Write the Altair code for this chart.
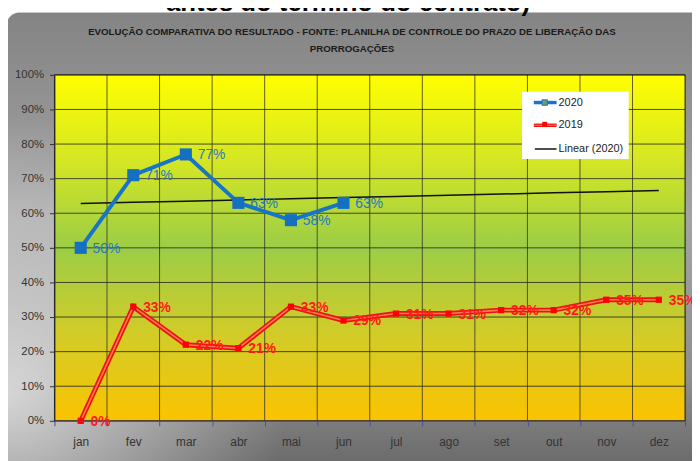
import altair as alt
import pandas as pd
import numpy as np

months = ["jan", "fev", "mar", "abr", "mai", "jun", "jul", "ago", "set", "out", "nov", "dez"]
v2020 = [0.50, 0.71, 0.77, 0.63, 0.58, 0.63]
v2019 = [0.00, 0.33, 0.22, 0.21, 0.33, 0.29, 0.31, 0.31, 0.32, 0.32, 0.35, 0.35]
yticks = [0.0, 0.1, 0.2, 0.3, 0.4, 0.5, 0.6, 0.7, 0.8, 0.9, 1.0]

title1 = "EVOLUÇÃO COMPARATIVA DO RESULTADO - FONTE: PLANILHA DE CONTROLE DO PRAZO DE LIBERAÇÃO DAS"
title2 = "PRORROGAÇÕES"
top_text = "antes do término do contrato)"

W, H = 638, 350
SANS = "Liberation Sans, Arial"

# linear trend of 2020 (least squares, like Excel's "Linear (2020)")
coef = np.polyfit(np.arange(len(v2020)), v2020, 1)
trend = [float(coef[0] * i + coef[1]) for i in range(len(months))]

df2020 = pd.DataFrame({"mes": months[:len(v2020)], "v": v2020})
df2019 = pd.DataFrame({"mes": months, "v": v2019})
dftrend = pd.DataFrame({"mes": months, "v": trend})
dfgridy = pd.DataFrame({"v": yticks[1:]})
dfgridx = pd.DataFrame({"mes": months[1:]})
one = pd.DataFrame({"a": [0]})

xs = alt.Scale(type="band", domain=months, paddingInner=0, paddingOuter=0)
ys = alt.Scale(domain=[0, 1])

xaxis = alt.Axis(title=None, labelAngle=0, tickBand="extent", grid=False,
                 domainColor="#4b4ba8", tickColor="#4b4ba8", tickSize=5,
                 labelPadding=11, labelFontSize=12, labelColor="#333333",
                 labelFont=SANS, zindex=1)
yaxis = alt.Axis(title=None, format="%", values=yticks, grid=False,
                 domainColor="#333333", tickColor="#333333", tickSize=5,
                 labelPadding=6, labelFontSize=11.5, labelColor="#333333",
                 labelFont=SANS, zindex=1)

def X(**kw):
    return alt.X("mes:N", sort=months, scale=xs, axis=xaxis, title=None, **kw)

def Y():
    return alt.Y("v:Q", scale=ys, axis=yaxis, title=None)

# frame
frame = alt.Chart(one).mark_rect(
    cornerRadius=14,
    fill={"gradient": "linear", "x1": 0, "y1": 0, "x2": 0, "y2": 1,
          "stops": [{"offset": 0, "color": "#848484"},
                    {"offset": 0.45, "color": "#a4a4a4"},
                    {"offset": 0.8, "color": "#8e8e8e"},
                    {"offset": 1, "color": "#686868"}]}
).encode(x=alt.value(-49), x2=alt.value(660), y=alt.value(-63), y2=alt.value(400))

frame_glow = alt.Chart(one).mark_rect(
    cornerRadius=14,
    fill={"gradient": "radial", "x1": 0, "y1": 0.72, "r1": 0, "x2": 0, "y2": 0.72, "r2": 0.4,
          "stops": [{"offset": 0, "color": "rgba(255,255,255,0.65)"},
                    {"offset": 1, "color": "rgba(255,255,255,0)"}]}
).encode(x=alt.value(-49), x2=alt.value(660), y=alt.value(-63), y2=alt.value(400))

plotbg = alt.Chart(one).mark_rect(
    stroke="#111111", strokeWidth=1,
    fill={"gradient": "linear", "x1": 0, "y1": 0, "x2": 0, "y2": 1,
          "stops": [{"offset": 0, "color": "#ffff00"},
                    {"offset": 0.25, "color": "#d4e624"},
                    {"offset": 0.5, "color": "#9ccd46"},
                    {"offset": 0.75, "color": "#d2cc28"},
                    {"offset": 1, "color": "#fbc300"}]}
).encode(x=alt.value(0), x2=alt.value(W), y=alt.value(0), y2=alt.value(H))

gridy = alt.Chart(dfgridy).mark_rule(color="#2a2a2a", strokeWidth=1, opacity=0.85).encode(
    y=Y(), x=alt.value(0), x2=alt.value(W))
gridx = alt.Chart(dfgridx).mark_rule(color="#2a2a2a", strokeWidth=1, opacity=0.75).encode(
    x=X(bandPosition=0), y=alt.value(0), y2=alt.value(H))

trend_line = alt.Chart(dftrend).mark_line(color="#111111", strokeWidth=1.5).encode(x=X(), y=Y())

l2020 = alt.Chart(df2020).mark_line(color="#1874c6", strokeWidth=4).encode(x=X(), y=Y())
p2020 = alt.Chart(df2020).mark_point(shape="square", filled=True, size=150, color="#1570c2", opacity=1).encode(
    x=X(), y=Y())
t2020 = alt.Chart(df2020).mark_text(align="left", baseline="middle", dx=12, dy=1, fontSize=14,
                                    font=SANS, color="#1f78c8").encode(
    x=X(), y=Y(), text=alt.Text("v:Q", format=".0%"))

l2019o = alt.Chart(df2019).mark_line(color="#ee1111", strokeWidth=5).encode(x=X(), y=Y())
l2019i = alt.Chart(df2019).mark_line(color="#ff7a50", strokeWidth=1.6).encode(x=X(), y=Y())
p2019 = alt.Chart(df2019).mark_point(shape="square", filled=True, size=40, color="#ff0000", opacity=1).encode(
    x=X(), y=Y())
t2019 = alt.Chart(df2019).mark_text(align="left", baseline="middle", dx=10, dy=1, fontSize=14,
                                    fontWeight="bold", font=SANS, color="#ff1a1a").encode(
    x=X(), y=Y(), text=alt.Text("v:Q", format=".0%"))

# legend box
leg_box = alt.Chart(one).mark_rect(fill="white").encode(
    x=alt.value(473), x2=alt.value(581), y=alt.value(17), y2=alt.value(85))
leg_r1 = alt.Chart(one).mark_rule(color="#1874c6", strokeWidth=3.5).encode(
    x=alt.value(485), x2=alt.value(508), y=alt.value(28))
leg_s1 = alt.Chart(one).mark_point(shape="square", filled=True, size=30, color="#6f9a70",
                                   stroke="#1874c6", strokeWidth=1, opacity=1).encode(
    x=alt.value(496), y=alt.value(28))
leg_r2 = alt.Chart(one).mark_rule(color="#ee1111", strokeWidth=3.5).encode(
    x=alt.value(485), x2=alt.value(508), y=alt.value(51))
leg_r2i = alt.Chart(one).mark_rule(color="#ff7a50", strokeWidth=1).encode(
    x=alt.value(485), x2=alt.value(508), y=alt.value(51))
leg_s2 = alt.Chart(one).mark_point(shape="square", filled=True, size=25, color="#ff0000", opacity=1).encode(
    x=alt.value(496), y=alt.value(50))
leg_r3 = alt.Chart(one).mark_rule(color="#111111", strokeWidth=1.5).encode(
    x=alt.value(486), x2=alt.value(508), y=alt.value(75))
leg_t1 = alt.Chart(one).mark_text(text="2020", align="left", baseline="middle", fontSize=11,
                                  font=SANS, color="#222222").encode(x=alt.value(510), y=alt.value(28))
leg_t2 = alt.Chart(one).mark_text(text="2019", align="left", baseline="middle", fontSize=11,
                                  font=SANS, color="#222222").encode(x=alt.value(510), y=alt.value(51))
leg_t3 = alt.Chart(one).mark_text(text="Linear (2020)", align="left", baseline="middle", fontSize=11,
                                  font=SANS, color="#222222").encode(x=alt.value(510), y=alt.value(75))

ttl1 = alt.Chart(one).mark_text(text=title1, fontSize=9.8, fontWeight="bold", font=SANS,
                                color="#1a1a1a", align="center", baseline="middle").encode(
    x=alt.value(301), y=alt.value(-43))
ttl2 = alt.Chart(one).mark_text(text=title2, fontSize=9.8, fontWeight="bold", font=SANS,
                                color="#1a1a1a", align="center", baseline="middle").encode(
    x=alt.value(301), y=alt.value(-26))
topt = alt.Chart(one).mark_text(text=top_text, fontSize=26, fontWeight="bold", font=SANS,
                                color="#000000", align="center", baseline="alphabetic").encode(
    x=alt.value(297), y=alt.value(-65))

chart = alt.layer(
    frame, frame_glow, plotbg, gridy, gridx,
    l2019o, l2019i, p2019, t2019,
    trend_line, l2020, p2020, t2020,
    leg_box, leg_r1, leg_r2, leg_r2i, leg_s1, leg_s2, leg_r3, leg_t1, leg_t2, leg_t3,
    ttl1, ttl2, topt
).properties(
    width=W, height=H,
    autosize=alt.AutoSizeParams(type="none"),
    padding={"left": 47, "top": 65, "right": 7, "bottom": 38},
    background="white"
).configure_view(stroke=None)

chart.save("out.html", embed_options={"renderer": "svg", "actions": False})
